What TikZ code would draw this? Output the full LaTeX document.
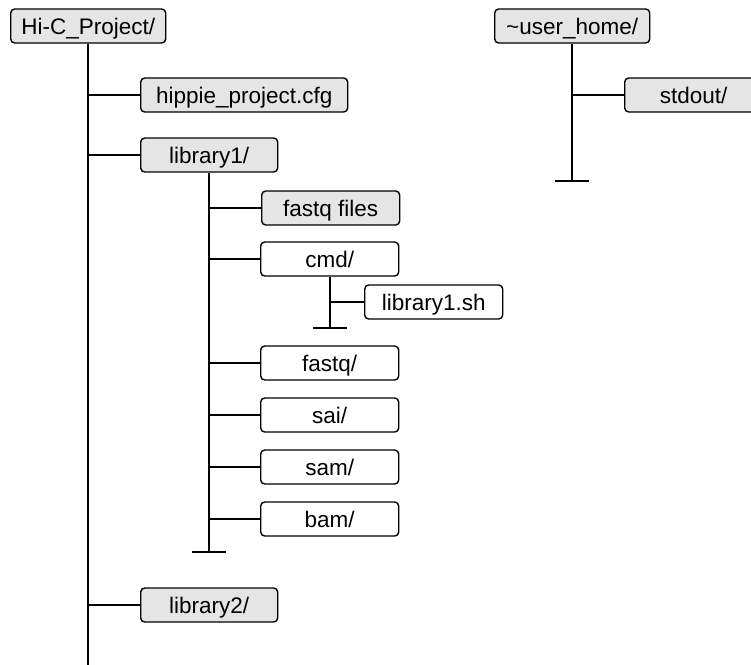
\documentclass[tikz,border=0pt]{standalone}
\usepackage{fontspec}
\setmainfont{Liberation Sans}
\usetikzlibrary{positioning}

\begin{document}
\begin{tikzpicture}[x=1pt, y=-1pt,
    box/.style={draw=black, line width=1.4pt, rounded corners=4pt, anchor=west,
        minimum height=34pt, inner sep=0pt, text height=17pt, text depth=-3pt,
        font=\fontsize{22.5}{27}\selectfont},
    folder/.style={box, fill=black!10},
    file/.style={box, fill=white},
    tree/.style={line width=1.8pt}]
    \clip (0, 0) rectangle (751, 664);

    % project directory
    \node[folder, minimum width=155pt] (root) at (10, 26) {Hi-C\_Project/};
    \node[folder, minimum width=207pt] (cfg) at (140, 95) {hippie\_project.cfg};
    \node[folder, minimum width=137pt] (libone) at (140, 155) {library1/};
    \node[folder, minimum width=137pt] (libtwo) at (140, 605) {library2/};

    % inside library1
    \node[folder, minimum width=138pt] (fastqfiles) at (261, 208) {fastq files};
    \node[file, minimum width=138pt] (cmd) at (260, 259) {cmd/};
    \node[file, minimum width=138pt] (script) at (364, 302) {library1.sh};
    \node[file, minimum width=138pt] (fastq) at (260, 363) {fastq/};
    \node[file, minimum width=138pt] (sai) at (260, 415) {sai/};
    \node[file, minimum width=138pt] (sam) at (260, 467) {sam/};
    \node[file, minimum width=138pt] (bam) at (260, 519) {bam/};

    % home directory
    \node[folder, minimum width=155pt] (home) at (494, 26) {\textasciitilde user\_home/};
    \node[folder, minimum width=138pt] (stdout) at (624, 95) {stdout/};

    \coordinate (rootend) at (root.south |- 0, 670);
    \coordinate (libend) at (libone.south |- 0, 552);
    \coordinate (cmdend) at (cmd.south |- 0, 328);
    \coordinate (homeend) at (home.south |- 0, 181);

    % trunks and their end bars
    \draw[tree] (root.south) -- (rootend);
    \draw[tree] (libone.south) -- (libend);
    \draw[tree] ([xshift=-17pt]libend) -- ([xshift=17pt]libend);
    \draw[tree] (cmd.south) -- (cmdend);
    \draw[tree] ([xshift=-17pt]cmdend) -- ([xshift=17pt]cmdend);
    \draw[tree] (home.south) -- (homeend);
    \draw[tree] ([xshift=-17pt]homeend) -- ([xshift=17pt]homeend);

    % branches
    \foreach \n in {cfg, libone, libtwo}
        \draw[tree] (root.south |- \n.west) -- (\n.west);
    \foreach \n in {fastqfiles, cmd, fastq, sai, sam, bam}
        \draw[tree] (libone.south |- \n.west) -- (\n.west);
    \draw[tree] (cmd.south |- script.west) -- (script.west);
    \draw[tree] (home.south |- stdout.west) -- (stdout.west);
\end{tikzpicture}
\end{document}
